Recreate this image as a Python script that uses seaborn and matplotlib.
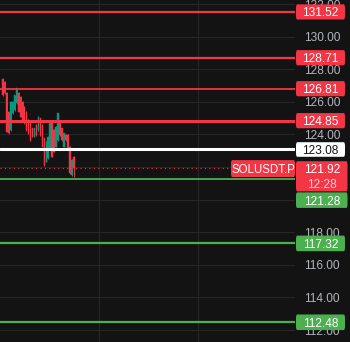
import numpy as np
import pandas as pd
import seaborn as sns
import matplotlib
matplotlib.use("Agg")
import matplotlib.pyplot as plt
from matplotlib.patches import FancyBboxPatch
import matplotlib.transforms as mtransforms

# ---------------- data ----------------
opens = [127.40, 127.24, 126.53, 125.40, 124.28, 125.30, 125.50, 125.91, 126.53, 126.32,
         126.01, 125.71, 125.40, 124.89, 124.69, 124.38, 123.87, 124.58, 124.28, 124.99,
         124.58, 123.77, 122.33, 122.54, 123.15, 124.79, 124.28, 123.25, 123.66, 124.79,
         124.38, 123.25, 123.97, 123.97, 123.25, 121.52, 122.64]
closes = [126.42, 126.53, 124.17, 124.07, 126.01, 126.01, 126.42, 126.83, 125.40, 125.09,
          124.89, 124.69, 124.28, 124.07, 123.66, 123.87, 124.38, 123.97, 125.09, 123.97,
          123.25, 122.13, 123.56, 123.87, 124.79, 122.64, 122.95, 124.48, 125.30, 123.97,
          123.66, 124.07, 123.66, 123.15, 121.62, 122.44, 121.92]
highs = [127.45, 127.30, 126.60, 125.45, 126.05, 126.05, 126.45, 126.88, 126.58, 126.36,
         126.05, 125.75, 125.45, 124.93, 124.72, 124.42, 124.42, 124.62, 125.13, 125.03,
         124.62, 123.80, 123.60, 123.90, 124.83, 124.83, 124.32, 124.52, 125.34, 124.83,
         124.42, 124.10, 124.00, 124.00, 123.28, 122.48, 122.68]
lows = [126.38, 126.50, 124.13, 124.03, 124.24, 125.26, 125.46, 125.87, 125.36, 125.05,
        124.85, 124.65, 124.24, 124.03, 123.62, 123.83, 123.83, 123.93, 124.24, 123.93,
        123.21, 122.09, 122.29, 122.50, 123.11, 122.60, 122.91, 123.21, 123.62, 123.93,
        123.62, 123.21, 123.62, 123.11, 121.58, 121.48, 121.41]

red_levels = [131.52, 128.71, 126.81, 124.85]
white_levels = [123.08]
green_levels = [121.28, 117.32, 112.48]
current_price = 121.92
symbol = "SOLUSDT.P"
countdown = "12:28"
y_ticks = [112, 114, 116, 118, 120, 122, 124, 126, 128, 130, 132]
hidden_ticks = [120, 122]  # fully covered by price boxes in the reference

# ---------------- style ----------------
BG = "#131313"
RED = "#f23645"
GREEN = "#4caf50"
C_UP = "#089981"
C_DN = "#f23645"
GRID = "#262626"
TXT = "#b2b5be"

sns.set_theme(style="dark")
plt.rcParams["font.family"] = ["Liberation Sans", "DejaVu Sans"]

W, H = 350, 342
fig = plt.figure(figsize=(W / 100, H / 100), dpi=100, facecolor=BG)
AX_W = 295
ax = fig.add_axes([0, 0, AX_W / W, 1])
ax.set_facecolor(BG)

n = len(opens)
df = pd.DataFrame({"i": np.arange(n), "open": opens, "close": closes,
                   "high": highs, "low": lows})
df["up"] = df["close"] >= df["open"]
df["color"] = np.where(df["up"], C_UP, C_DN)

# y scale: 16.3 px per unit, 118 at pixel 232.3 from top
ppu = 16.3
ymax = 118 + 232.3 / ppu
ymin = ymax - H / ppu
ax.set_ylim(ymin, ymax)
px_per_x = 1.98
xmin = -2.7 / px_per_x
ax.set_xlim(xmin, xmin + AX_W / px_per_x)

# grid
for yv in y_ticks:
    ax.axhline(yv, color=GRID, lw=0.8, zorder=0)
for xv in [48.6, 98.6]:
    ax.axvline(xv, color=GRID, lw=0.8, zorder=0)

# candles
ax.vlines(df["i"], df["low"], df["high"], colors=df["color"], lw=0.7, zorder=3)
ax.bar(df["i"], (df["close"] - df["open"]).abs().clip(lower=0.05),
       bottom=np.minimum(df["open"], df["close"]), width=0.75,
       color=df["color"], edgecolor=df["color"], linewidth=0.3, zorder=3)

# levels
lev = pd.DataFrame({"price": red_levels + white_levels + green_levels,
                    "kind": ["r"] * len(red_levels) + ["w"] * len(white_levels) + ["g"] * len(green_levels)})
lw_map = {131.52: 1.6, 128.71: 1.6, 126.81: 1.3, 124.85: 2.2, 123.08: 2.2,
          121.28: 1.3, 117.32: 1.6, 112.48: 1.6}
col_map = {"r": RED, "w": "#ffffff", "g": GREEN}
for _, r in lev.iterrows():
    ax.axhline(r["price"], color=col_map[r["kind"]], lw=lw_map.get(r["price"], 1.5), zorder=4)

# current price dotted line
ax.plot([xmin, xmin + 231 / px_per_x], [current_price, current_price], color=RED,
        lw=0.8, ls=(0, (1, 3)), zorder=4)

# axis ticks on right
ax.yaxis.tick_right()
ax.set_yticks(y_ticks)
ax.set_yticklabels(["" if v in hidden_ticks else f"{v:.2f}" for v in y_ticks],
                   color=TXT, fontsize=8.6)
ax.tick_params(axis="y", length=0, pad=6.5)
ax.set_xticks([])
for s in ax.spines.values():
    s.set_visible(False)

def px2y(p):
    return ymax - p / ppu

trans = mtransforms.blended_transform_factory(ax.transAxes, ax.transData)

def label_box(x0px, x1px, ytop_px, ybot_px, face, text_lines, tcolors, fs=8.6, bold=False):
    x0 = x0px / AX_W
    x1 = x1px / AX_W
    y0 = px2y(ybot_px)
    y1 = px2y(ytop_px)
    box = FancyBboxPatch((x0, y0), x1 - x0, y1 - y0, boxstyle="round,pad=0,rounding_size=0.004",
                         transform=trans, facecolor=face, edgecolor="none",
                         clip_on=False, zorder=6, mutation_aspect=60)
    ax.add_patch(box)
    k = len(text_lines)
    hh = (ybot_px - ytop_px) / k
    for j, (t, c) in enumerate(zip(text_lines, tcolors)):
        yc = px2y(ytop_px + hh * (j + 0.5))
        ax.text((x0 + x1) / 2, yc, t, transform=trans, ha="center", va="center_baseline",
                color=c, fontsize=fs, zorder=7, clip_on=False,
                fontweight="bold" if bold else "normal")

def price_px(p):
    return (ymax - p) * ppu

BX0, BX1 = 296, 345
for p in red_levels:
    c = price_px(p)
    label_box(BX0, BX1, c - 7.6, c + 7.6, RED, [f"{p:.2f}"], ["white"])
c = price_px(white_levels[0])
label_box(BX0, BX1, c - 7.3, c + 7.3, "#ffffff", [f"{white_levels[0]:.2f}"], ["#131313"])
c = price_px(current_price)
label_box(BX0, 347.5, c - 7.2, c + 23.0, RED, [f"{current_price:.2f}", countdown],
          ["white", "#ffd0d4"])
label_box(231, 295, c - 8.3, c + 8.6, RED, [symbol], ["white"], fs=8.3)
# first green level is pushed below the current price box
label_box(BX0, 347.5, c + 24.0, c + 39.5, GREEN, [f"{green_levels[0]:.2f}"], ["white"])
for p in green_levels[1:]:
    c2 = price_px(p)
    label_box(BX0, BX1, c2 - 7.8, c2 + 7.8, GREEN, [f"{p:.2f}"], ["white"])

fig.savefig("out.png", dpi=100, facecolor=BG)
